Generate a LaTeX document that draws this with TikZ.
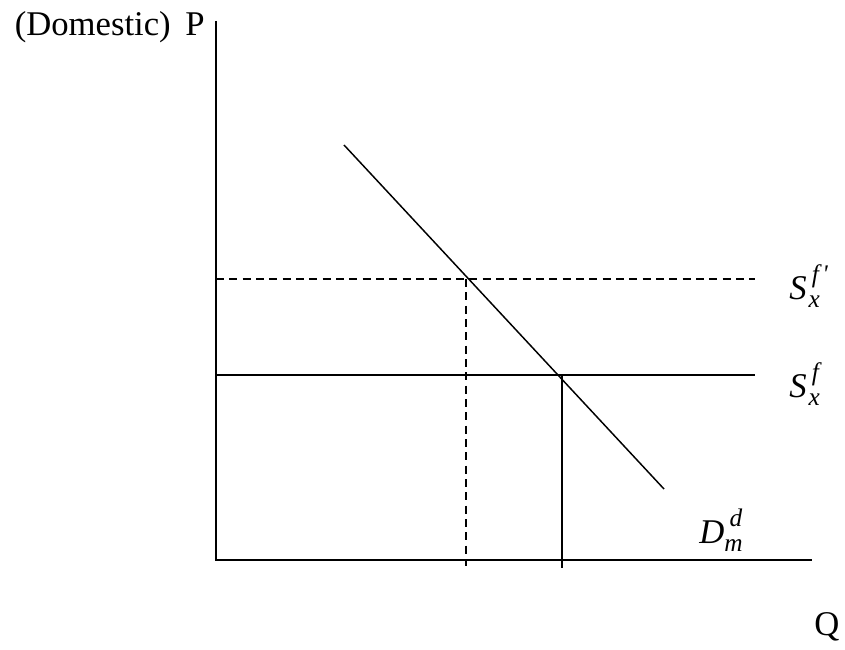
\documentclass[tikz,border=0pt]{standalone}
\usepackage{fontspec}
\setmainfont{Liberation Serif}
\newcommand{\scriptsz}{\fontsize{19}{19}\selectfont}
% base, sub, sup, subkern, supkern
\newcommand{\econsym}[5]{\textit{#1}\makebox[0pt][l]{\kern#4\raisebox{-0.24em}{\scriptsz\textit{#2}}}\kern#5\raisebox{0.49em}{\scriptsz\textit{#3}}}
\begin{document}
\begin{tikzpicture}[x=0.75pt,y=-0.75pt,
  curve/.style={line width=1.1pt},
  guide/.style={line width=1.1pt,dash pattern=on 6pt off 4pt},
  lbl/.style={anchor=base west,inner sep=0pt,font=\fontsize{26}{30}\selectfont}]
\useasboundingbox (0,0) rectangle (845,649);
% axes
\coordinate (ytop) at (216,21);
\coordinate (O) at (216,560);
\coordinate (xend) at (812,560);
\draw[curve] (ytop) -- (O) -- (xend);
% supply lines
\coordinate (sfp0) at (216,279);
\coordinate (sfp1) at (755,279);
\coordinate (sf0) at (216,375);
\coordinate (sf1) at (755,375);
\draw[guide] (sfp0) -- (sfp1);
\draw[curve] (sf0) -- (sf1);
% demand line
\coordinate (d0) at (344,145);
\coordinate (d1) at (664,489);
\draw[curve] (d0) -- (d1);
% drop lines
\coordinate (e1) at (466,279);
\coordinate (e1b) at (466,566);
\coordinate (e2) at (562,375);
\coordinate (e2b) at (562,568);
\draw[guide] (e1) -- (e1b);
\draw[curve] (e2) -- (e2b);
% labels
\node[lbl,anchor=base east] (dom) at (171,36) {(Domestic)};
\node[lbl] (plab) at (185,36) {P};
\node[lbl] (qlab) at (814,635) {Q};
\node[lbl] (sfplab) at (789,299) {\econsym{S}{x}{f\kern2.5pt\textquotesingle}{1.5pt}{4pt}};
\node[lbl] (sflab) at (789,397) {\econsym{S}{x}{f}{1.5pt}{4pt}};
\node[lbl] (dlab) at (699,543) {\econsym{D}{m}{d}{0pt}{4pt}};
\end{tikzpicture}
\end{document}
